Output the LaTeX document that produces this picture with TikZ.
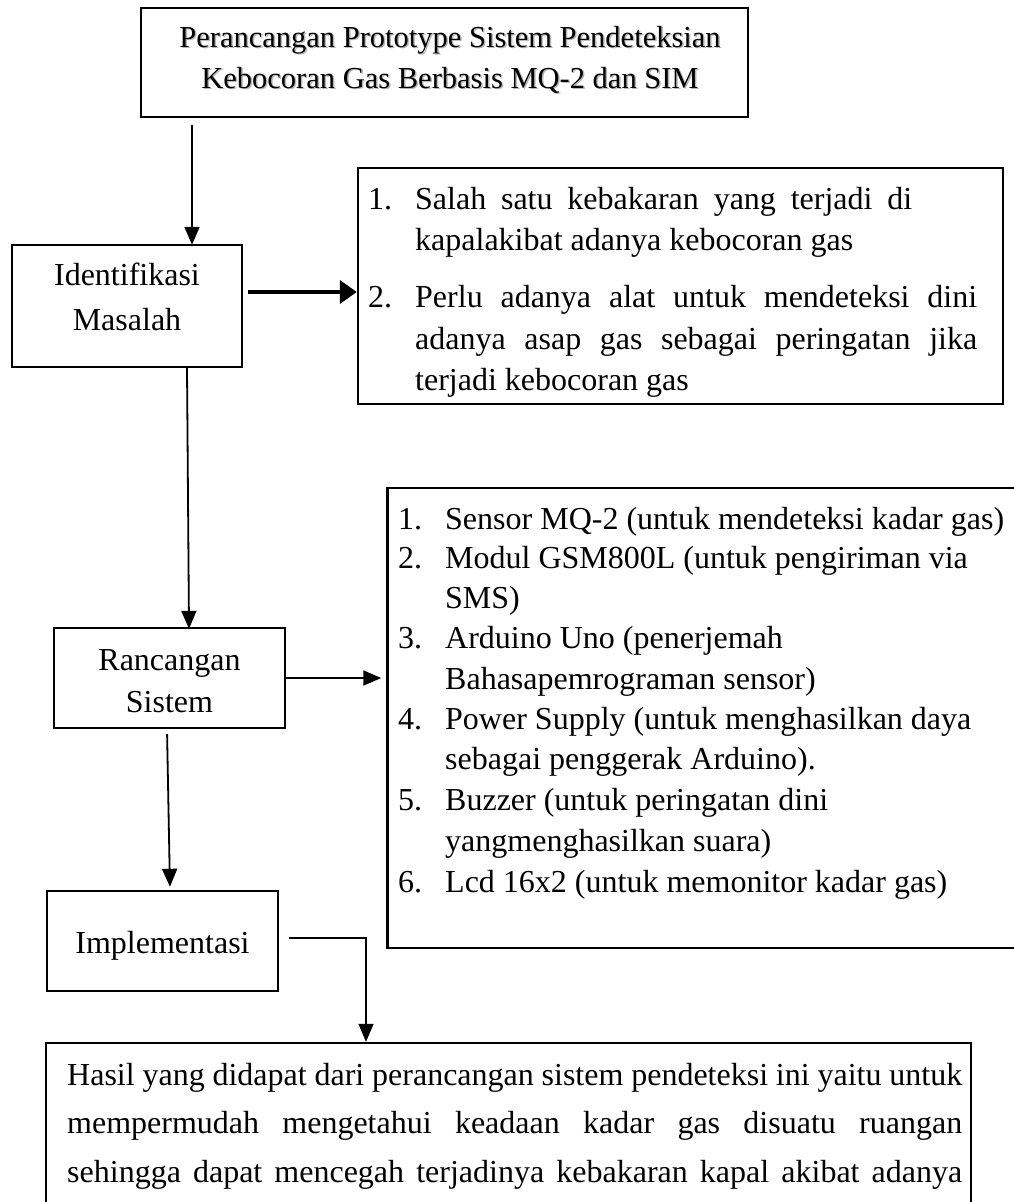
\documentclass[tikz,border=0pt]{standalone}
\usepackage{fontspec}
\setmainfont{Liberation Serif}
\usetikzlibrary{arrows.meta}
\newcommand{\bodyfnt}{\fontsize{32}{38}\selectfont}
\newcommand{\topfnt}{\fontsize{30.5}{36}\selectfont}
\begin{document}
\begin{tikzpicture}[x=1pt,y=-1pt,
  box/.style={draw, line width=2.4pt, inner sep=0pt},
  txt/.style={font=\bodyfnt, inner sep=0pt, anchor=base},
  ltxt/.style={font=\bodyfnt, inner sep=0pt, anchor=base west},
  arr/.style={line width=1.8pt, -{Triangle[length=18pt,width=15pt]}},
  thickarr/.style={line width=4pt, -{Triangle[length=17pt,width=23pt]}},
  conn/.style={line width=1.4pt, -{Triangle[length=18pt,width=15pt]}}]
\useasboundingbox (0,0) rectangle (1014,1202);
\fill[white] (0,0) rectangle (1014,1202);

% boxes
\node[box, minimum width=607pt, minimum height=109pt] (top) at (444.5,62.5) {};
\node[box, minimum width=230pt, minimum height=122pt] (ident) at (127,306) {};
\node[box, minimum width=645pt, minimum height=236pt] (box1) at (680.5,286) {};
\node[box, minimum width=231pt, minimum height=100pt] (ranc) at (169.5,678) {};
\node[box, minimum width=652.5pt, minimum height=460pt] (box2) at (713.75,718) {};
\node[box, minimum width=231pt, minimum height=100pt] (impl) at (162.5,941) {};
\node[box, minimum width=925pt, minimum height=219pt] (hasil) at (508.5,1152.5) {};

% top title with soft shadow
\node[txt, font=\topfnt, text=black!28] at (451.5,48.5) {Perancangan Prototype Sistem Pendeteksian};
\node[txt, font=\topfnt, text=black!28] at (451.5,89.5) {Kebocoran Gas Berbasis MQ-2 dan SIM};
\node[txt, font=\topfnt] (t1) at (450,47) {Perancangan Prototype Sistem Pendeteksian};
\node[txt, font=\topfnt] (t2) at (450,88) {Kebocoran Gas Berbasis MQ-2 dan SIM};

% small boxes text
\node[txt] (i1) at (127,285) {Identifikasi};
\node[txt] (i2) at (127,330) {Masalah};
\node[txt] (r1) at (169.5,670) {Rancangan};
\node[txt] (r2) at (169.5,712) {Sistem};
\node[txt] (m1) at (162.5,953) {Implementasi};

% box 1 text
\node[ltxt] (b1n1) at (368,209) {1.};
\node[ltxt] (b1l1) at (415,209) {\makebox[497pt][s]{Salah satu kebakaran yang terjadi di}};
\node[ltxt] (b1l2) at (415,250) {kapalakibat adanya kebocoran gas};
\node[ltxt] (b1n2) at (368,307) {2.};
\node[ltxt] (b1l3) at (415,307) {\makebox[562pt][s]{Perlu adanya alat untuk mendeteksi dini}};
\node[ltxt] (b1l4) at (415,349) {\makebox[562pt][s]{adanya asap gas sebagai peringatan jika}};
\node[ltxt] (b1l5) at (415,390) {terjadi kebocoran gas};

% box 2 text
\node[ltxt] at (398,529) {1.};
\node[ltxt] at (445,529) {Sensor MQ-2 (untuk mendeteksi kadar gas)};
\node[ltxt] at (398,568) {2.};
\node[ltxt] at (445,568) {Modul GSM800L (untuk pengiriman via};
\node[ltxt] at (445,608) {SMS)};
\node[ltxt] at (398,648) {3.};
\node[ltxt] at (445,648) {Arduino Uno (penerjemah};
\node[ltxt] at (445,689) {Bahasapemrograman sensor)};
\node[ltxt] at (398,729) {4.};
\node[ltxt] at (445,729) {Power Supply (untuk menghasilkan daya};
\node[ltxt] at (445,769) {sebagai penggerak Arduino).};
\node[ltxt] at (398,810) {5.};
\node[ltxt] at (445,810) {Buzzer (untuk peringatan dini};
\node[ltxt] at (445,851) {yangmenghasilkan suara)};
\node[ltxt] at (398,892) {6.};
\node[ltxt] at (445,892) {Lcd 16x2 (untuk memonitor kadar gas)};

% bottom box text
\node[ltxt] at (67,1085) {\makebox[895pt][s]{Hasil yang didapat dari perancangan sistem pendeteksi ini yaitu untuk}};
\node[ltxt] at (67,1133) {\makebox[895pt][s]{mempermudah mengetahui keadaan kadar gas disuatu ruangan}};
\node[ltxt] at (67,1182) {\makebox[895pt][s]{sehingga dapat mencegah terjadinya kebakaran kapal akibat adanya}};

% connectors
\coordinate (xa) at (192,0);
\draw[arr, shorten <=7pt, shorten >=-1pt] (top.south -| xa) -- (ident.north -| xa);
\draw[thickarr, shorten <=5pt] ([yshift=14pt]ident.east) -- ([yshift=14pt]ident.east -| box1.west);
\draw[arr, shorten >=-2pt] ([xshift=60pt]ident.south) -- ([xshift=19.5pt]ranc.north);
\draw[arr, shorten >=5pt] (ranc.east) -- (ranc.east -| box2.west);
\draw[arr, shorten <=5pt, shorten >=3pt] ([xshift=-2.5pt]ranc.south) -- ([xshift=7.5pt]impl.north);
\coordinate (bend) at (366,938);
\draw[conn, shorten <=10pt] (impl.east |- bend) -- (bend) -- (bend |- hasil.north);
\end{tikzpicture}
\end{document}
